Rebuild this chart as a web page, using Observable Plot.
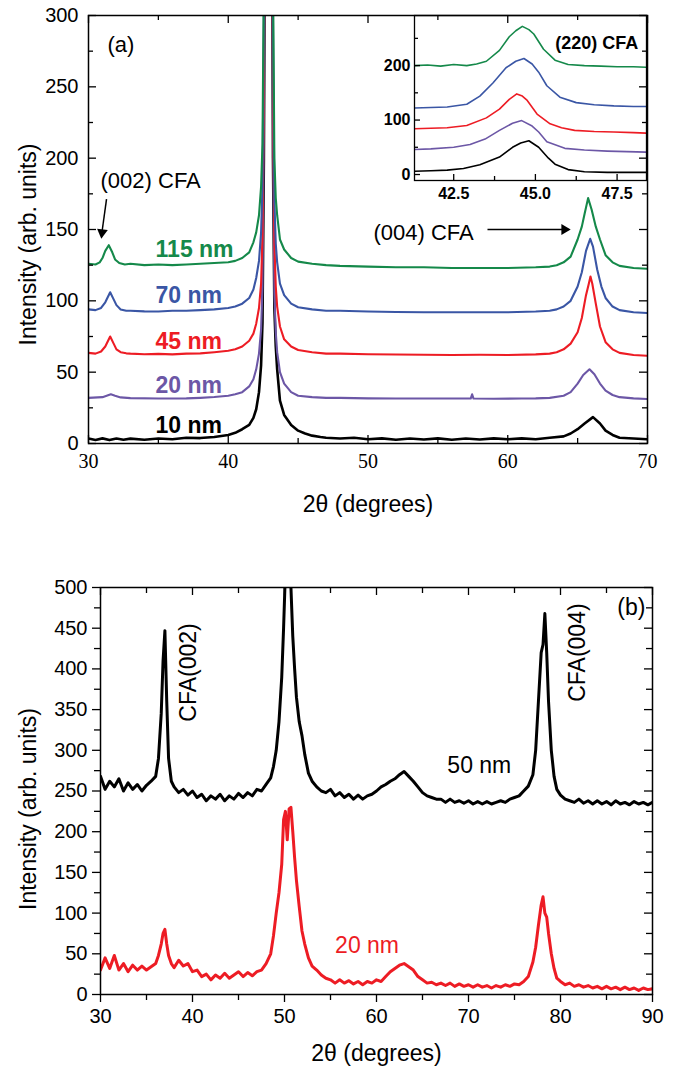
<!DOCTYPE html>
<html><head><meta charset="utf-8">
<script src="https://cdn.jsdelivr.net/npm/d3@7"></script>
<script src="https://cdn.jsdelivr.net/npm/@observablehq/plot@0.6"></script>
<style>
body{margin:0;background:#fff;}
#wrap{position:relative;width:676px;height:1070px;overflow:hidden;}
#wrap svg{position:absolute;}
</style></head><body><div id="wrap"></div>
<script>
// ---------- Panel (a): series labels and colours ----------
const topNames = ["10 nm","20 nm","45 nm","70 nm","115 nm"];
const topColors = ["#000000","#6c57a6","#ed1c24","#3a56a5","#15894a"];
const topLabelY = [12.6, 40.7, 71.5, 103.7, 136];

// ---------- Panel (a): 2θ / intensity pairs ----------
const top10nm = [[30,3.5],[30.5,2.5],[31,3.6],[31.5,2.4],[32,3.5],[32.5,2.6],[33,3.4],[34,2.6],[35,3.5],[36,3],[37,4],[38,3.8],[39,4.6],[40,6],[40.5,7.5],[41,10],[41.5,13],[41.8,18],[42,24],[42.2,36],[42.35,55],[42.45,85],[42.55,200],[42.9,1000],[43.2,200],[43.3,95],[43.4,68],[43.5,52],[43.7,30],[44,20],[44.5,13],[45,9],[45.5,7],[46,5.5],[46.6,4.5],[47,4],[48,3.5],[49,4],[50,3],[51,3.6],[52,2.6],[53,3.5],[54,2.8],[55,3.6],[56,2.6],[57,3.5],[58,2.8],[59,3.6],[60,3],[61,3.6],[62,3],[63,4],[64,5],[64.5,7],[65,10],[65.5,14],[66.1,18.5],[66.6,14],[67,9],[67.5,6],[68,4],[69,3.5],[70,3]];
const top20nm = [[30,32],[31,32.5],[31.3,33.5],[31.6,34.5],[31.9,33.5],[32.3,32.3],[33,31.8],[35,31.5],[37,31.6],[38,32],[39,32.6],[40,33.5],[40.5,34.5],[41,36],[41.5,40],[41.8,45],[42,52],[42.2,63],[42.35,80],[42.45,110],[42.55,230],[42.9,1000],[43.2,230],[43.3,105],[43.4,78],[43.5,64],[43.7,50],[44,42],[44.5,36],[45,33.5],[46,32.5],[47,32],[48,32],[50,31.6],[52,31.5],[54,31.5],[56,31.5],[57.35,31.5],[57.45,34.5],[57.55,31.5],[59,31.4],[61,31.5],[62,31.6],[63,32],[64,33.5],[64.5,36],[65,42],[65.4,48],[65.85,52],[66.2,48.5],[66.6,42],[67,37],[67.5,34],[68,32.5],[69,31.6],[70,31.2]];
const top45nm = [[30,63.5],[30.5,63],[30.9,64.5],[31.2,68],[31.55,75],[31.8,70],[32,66],[32.3,64],[32.7,63.2],[33,63],[34,62.6],[35,62.8],[36,62.5],[37,63],[38,63.2],[39,64],[40,65],[40.5,66],[41,68],[41.5,72],[41.8,77],[42,84],[42.2,95],[42.35,112],[42.45,145],[42.55,260],[42.9,1000],[43.2,260],[43.3,140],[43.4,110],[43.5,96],[43.7,82],[44,73],[44.5,68],[45,65.5],[46,64],[47,63],[48,63],[50,62.6],[52,62.4],[54,62.2],[56,62],[58,62.2],[60,62],[62,62.5],[63,63],[63.5,64],[64,66],[64.5,70],[65,78],[65.3,88],[65.6,104],[65.8,112],[65.92,117],[66.05,112],[66.3,98],[66.6,82],[67,71],[67.5,66],[68,63.5],[69,62],[70,61.5]];
const top70nm = [[30,94],[30.5,93.5],[30.9,95],[31.2,99],[31.55,106],[31.8,101],[32,97],[32.3,94],[32.7,93],[33,93],[34,92.6],[35,92.5],[36,93],[37,93],[38,93.5],[39,94],[40,95],[40.5,96],[41,98],[41.5,102],[41.8,108],[42,116],[42.2,128],[42.35,148],[42.45,180],[42.55,300],[42.9,1000],[43.2,300],[43.3,170],[43.4,140],[43.5,127],[43.7,112],[44,104],[44.5,98],[45,95.5],[46,94],[47,93],[48,93],[50,92.5],[52,92.2],[54,92],[56,92],[58,92],[60,92],[62,92.5],[63,93],[63.5,94],[64,96],[64.5,100],[65,110],[65.3,120],[65.6,135],[65.9,143.5],[66.1,138],[66.4,122],[66.7,110],[67,102],[67.5,96],[68,93.5],[69,92],[70,91.5]];
const top115nm = [[30,126],[30.5,125.5],[30.8,127],[31,130],[31.2,135],[31.45,139],[31.7,134],[31.9,129],[32.2,126.5],[32.6,125.5],[33,126],[34,125],[35,125.5],[36,125],[37,125.5],[38,126],[39,126.5],[40,127],[40.5,128],[41,130],[41.5,134],[41.8,141],[42,148],[42.2,160],[42.35,180],[42.45,210],[42.55,330],[42.9,1000],[43.2,330],[43.3,200],[43.4,172],[43.5,160],[43.7,143],[44,136],[44.5,130],[45,127.5],[46,126],[47,125],[48,124.5],[50,124],[52,123.5],[54,123.5],[56,123],[58,123],[60,123],[62,123.5],[63,124],[63.5,125],[64,127],[64.5,131],[65,143],[65.3,152],[65.5,161],[65.75,172],[66,164],[66.3,152],[66.6,143],[67,132],[67.5,127],[68,124.5],[69,123],[70,122.5]];

// ---------- Inset (220) ----------
const in10nm = [[41.3,6],[41.8,7],[42.3,8],[42.8,11],[43.3,18],[43.9,32],[44.3,50],[44.55,58],[44.8,62],[45.1,50],[45.4,30],[45.6,19],[46,9],[46.5,5],[47.2,4],[48,4],[48.4,4]];
const in20nm = [[41.3,46],[41.8,47],[42.5,50],[43,55],[43.46,65],[43.9,81],[44.3,94],[44.58,99],[44.9,89],[45.1,78],[45.35,60],[45.9,48],[46.5,45],[47.2,43],[47.8,42],[48.4,41]];
const in45nm = [[41.3,84],[41.8,85],[42.3,86],[42.9,90],[43.5,104],[43.9,120],[44.2,138],[44.43,148],[44.6,144],[44.75,136],[45.05,111],[45.45,93],[45.8,86],[46.2,81],[46.8,79],[47.4,78],[48,77],[48.4,76]];
const in70nm = [[41.3,122],[41.8,123],[42.3,124],[42.9,129],[43.3,144],[43.7,168],[44.1,196],[44.4,208],[44.65,213],[44.9,203],[45.1,188],[45.35,163],[45.75,142],[46.25,132],[46.8,128],[47.4,126],[48,125],[48.4,125]];
const in115nm = [[41.3,200],[41.7,201],[42.1,199],[42.5,202],[42.9,200],[43.2,203],[43.5,208],[43.9,228],[44.2,253],[44.4,264],[44.6,272],[44.8,266],[44.95,258],[45.25,230],[45.6,210],[46,202],[46.5,200],[47,199],[47.5,198],[48,198],[48.4,197]];

// ---------- Panel (b) ----------
const botNames = ["50 nm","20 nm"];
const botColors = ["#000000","#ed1c24"];
const bot50nm = [[30,268],[30.5,252],[31,262],[31.5,255],[32,265],[32.5,250],[33,260],[33.5,252],[34,258],[34.5,250],[35,257],[35.5,262],[36,268],[36.3,290],[36.6,345],[36.8,410],[37,447],[37.2,360],[37.4,290],[37.7,262],[38,255],[38.5,248],[39,252],[39.5,245],[40,250],[40.5,242],[41,246],[41.5,238],[42,244],[42.5,240],[43,246],[43.5,238],[44,244],[44.5,240],[45,247],[45.5,242],[46,248],[46.5,244],[47,252],[47.5,250],[48,258],[48.5,266],[48.8,280],[49.1,300],[49.4,335],[49.7,390],[49.9,450],[50.1,520],[50.3,560],[50.5,560],[50.7,500],[50.9,440],[51.1,400],[51.3,365],[51.6,335],[51.9,318],[52.2,295],[52.6,272],[53,262],[53.5,255],[54,250],[54.5,248],[55,252],[55.5,244],[56,248],[56.5,242],[57,246],[57.5,240],[58,245],[58.5,240],[59,244],[59.5,246],[60,250],[60.5,255],[61,258],[61.5,262],[62,265],[62.5,270],[63,274],[63.5,268],[64,262],[64.5,255],[65,248],[65.5,244],[66,242],[66.5,240],[67,240],[67.5,236],[68,240],[68.5,236],[69,238],[69.5,235],[70,238],[70.5,234],[71,237],[71.5,234],[72,237],[72.5,234],[73,236],[73.5,238],[74,236],[74.5,240],[75,242],[75.5,244],[76,250],[76.5,256],[77,270],[77.3,300],[77.6,360],[77.9,420],[78.1,430],[78.3,468],[78.5,420],[78.7,360],[79,300],[79.3,268],[79.6,252],[80,245],[80.5,240],[81,238],[81.5,236],[82,240],[82.5,235],[83,238],[83.5,234],[84,238],[84.5,234],[85,237],[85.5,233],[86,238],[86.5,234],[87,236],[87.5,233],[88,237],[88.5,234],[89,236],[89.5,233],[90,236]];
const bot20nm = [[30,30],[30.5,45],[31,32],[31.5,48],[32,30],[32.5,38],[33,28],[33.5,36],[34,30],[34.5,35],[35,30],[35.5,34],[36,38],[36.3,48],[36.6,62],[36.8,75],[37,80],[37.2,62],[37.4,48],[37.7,38],[38,33],[38.5,42],[39,35],[39.5,38],[40,28],[40.5,30],[41,22],[41.5,25],[42,18],[42.5,24],[43,20],[43.5,26],[44,20],[44.5,24],[45,28],[45.5,22],[46,27],[46.5,23],[47,28],[47.5,30],[48,38],[48.5,50],[48.8,72],[49.1,100],[49.4,125],[49.7,160],[49.9,215],[50.1,225],[50.3,190],[50.5,228],[50.7,230],[50.9,200],[51.1,168],[51.3,140],[51.6,108],[51.9,78],[52.2,62],[52.6,45],[53,35],[53.5,30],[54,24],[54.5,20],[55,18],[55.5,14],[56,18],[56.5,14],[57,17],[57.5,13],[58,16],[58.5,12],[59,16],[59.5,14],[60,18],[60.5,16],[61,22],[61.5,28],[62,32],[62.5,36],[63,38],[63.5,34],[64,30],[64.5,22],[65,18],[65.5,14],[66,15],[66.5,12],[67,14],[67.5,11],[68,14],[68.5,10],[69,13],[69.5,10],[70,12],[70.5,9],[71,12],[71.5,9],[72,11],[72.5,8],[73,11],[73.5,9],[74,12],[74.5,10],[75,13],[75.5,12],[76,16],[76.5,22],[77,40],[77.3,58],[77.6,85],[77.9,110],[78.1,120],[78.3,100],[78.5,95],[78.7,75],[79,50],[79.3,32],[79.6,20],[80,16],[80.5,12],[81,14],[81.5,10],[82,12],[82.5,9],[83,11],[83.5,8],[84,10],[84.5,7],[85,10],[85.5,7],[86,9],[86.5,6],[87,9],[87.5,6],[88,8],[88.5,5],[89,8],[89.5,6],[90,7]];

// ---------- Tick values ----------
const topXMajor = [30,40,50,60,70], topXMinor = [35,45,55,65];
const topYMajor = [0,50,100,150,200,250,300], topYMinor = [25,75,125,175,225,275];
const inXMajor = [42.5,45,47.5], inXMinor = [43.75,46.25];
const inYMajor = [0,100,200], inYMinor = [50,150,250];
const botXMajor = [30,40,50,60,70,80,90], botXMinor = [35,45,55,65,75,85];
const botYMajor = [0,50,100,150,200,250,300,350,400,450,500], botYMinor = [25,75,125,175,225,275,325,375,425,475];

const SANS = "'Liberation Sans', Arial, Helvetica, sans-serif";
const SERIF = "'Liberation Serif', 'Times New Roman', serif";
const wrap = document.getElementById("wrap");
const W = 676;

function ticksX(vals, fh, len, side) {
  return side === "bottom-in" ? Plot.tickX(vals, {x: d => d, insetTop: fh - len, stroke: "black", strokeWidth: 1.3})
       : side === "top-in" ? Plot.tickX(vals, {x: d => d, insetBottom: fh - len, stroke: "black", strokeWidth: 1.3})
       : Plot.tickX(vals, {x: d => d, insetTop: fh, insetBottom: -len, stroke: "black", strokeWidth: 1.3});
}
function ticksY(vals, fw, len, side) {
  return side === "left-in" ? Plot.tickY(vals, {y: d => d, insetRight: fw - len, stroke: "black", strokeWidth: 1.3})
       : side === "right-in" ? Plot.tickY(vals, {y: d => d, insetLeft: fw - len, stroke: "black", strokeWidth: 1.3})
       : Plot.tickY(vals, {y: d => d, insetRight: fw, insetLeft: -len, stroke: "black", strokeWidth: 1.3});
}

// ---------- Inset (drawn first, underneath) ----------
{
  const iw = 300, ih = 215, ml = 54, mr = 14, mt = 15, mb = 35;
  const fw = iw - ml - mr, fh = ih - mt - mb;
  const sets = [in10nm, in20nm, in45nm, in70nm, in115nm];
  const inset = Plot.plot({
    width: iw, height: ih, marginLeft: ml, marginRight: mr, marginTop: mt, marginBottom: mb,
    x: {domain: [41.3, 48.4]}, y: {domain: [-11, 292]},
    style: {background: "transparent", color: "black", fontFamily: SANS, fontSize: "16px"},
    marks: [
      Plot.frame({fill: "white", stroke: "none"}),
      ...sets.map((s, i) => Plot.line(s, {x: d => d[0], y: d => d[1], stroke: topColors[i], strokeWidth: 1.6, clip: true})),
      ticksX(inXMajor, fh, 6, "bottom-in"), ticksX(inXMinor, fh, 4, "bottom-in"),
      ticksY(inYMajor, fw, 6, "left-in"), ticksY(inYMinor, fw, 4, "left-in"),
      Plot.axisX(inXMajor, {tickSize: 0, tickPadding: 7, tickFormat: d3.format(".1f"), fontWeight: "bold", fontSize: 16, label: null}),
      Plot.axisY(inYMajor, {tickSize: 0, tickPadding: 4, fontWeight: "bold", fontSize: 16, label: null}),
      Plot.text(["(220) CFA"], {x: () => 48.15, y: () => 240.6, textAnchor: "end", fontWeight: "bold", fontSize: 18}),
      Plot.frame({stroke: "black", strokeWidth: 1.3})
    ]
  });
  inset.style.left = "360px"; inset.style.top = "0px";
  wrap.appendChild(inset);
}

// ---------- Panel (a) ----------
{
  const h = 540, ml = 88, mr = 29, mt = 15, mb = 97;
  const fw = W - ml - mr, fh = h - mt - mb;
  const sets = [top10nm, top20nm, top45nm, top70nm, top115nm];
  const p = Plot.plot({
    width: W, height: h, marginLeft: ml, marginRight: mr, marginTop: mt, marginBottom: mb,
    x: {domain: [30, 70]}, y: {domain: [0, 300]},
    style: {background: "transparent", color: "black", fontFamily: SANS, fontSize: "20px"},
    marks: [
      ...sets.map((s, i) => Plot.line(s, {x: d => d[0], y: d => d[1], stroke: topColors[i], strokeWidth: i === 0 ? 2.6 : 2.1, clip: true})),
      ...topNames.map((n, i) => Plot.text([n], {x: () => 34.8, y: () => topLabelY[i], fill: topColors[i], textAnchor: "start", fontWeight: "bold", fontSize: 23})),
      Plot.text(["(a)"], {x: () => 31.36, y: () => 279.5, textAnchor: "start", fontSize: 22}),
      Plot.text(["(002) CFA"], {x: () => 30.86, y: () => 184, textAnchor: "start", fontSize: 22}),
      Plot.link([0], {x1: () => 31.29, y1: () => 171.3, x2: () => 30.97, y2: () => 148.6, stroke: "black", strokeWidth: 1.5}),
      Plot.dot([0], {x: () => 30.97, y: () => 147.9, symbol: "triangle", r: 4, fill: "black", stroke: "none", rotate: 187}),
      Plot.text(["(004) CFA"], {x: () => 50.39, y: () => 147.9, textAnchor: "start", fontSize: 22}),
      Plot.link([0], {x1: () => 58.55, y1: () => 150, x2: () => 64.06, y2: () => 150, stroke: "black", strokeWidth: 1.5}),
      Plot.dot([0], {x: () => 64.06, y: () => 150, symbol: "triangle", r: 4, fill: "black", stroke: "none", rotate: 90}),
      ticksX(topXMajor, fh, 8, "bottom-in"), ticksX(topXMinor, fh, 5, "bottom-in"),
      ticksX(topXMajor, fh, 8, "top-in"), ticksX(topXMinor, fh, 5, "top-in"),
      ticksY(topYMajor, fw, 8, "left-in"), ticksY(topYMinor, fw, 5, "left-in"),
      ticksY(topYMajor, fw, 8, "right-in"), ticksY(topYMinor, fw, 5, "right-in"),
      Plot.axisX(topXMajor, {tickSize: 0, tickPadding: 10, fontFamily: SERIF, fontSize: 20, label: null}),
      Plot.axisY(topYMajor, {tickSize: 0, tickPadding: 10, fontSize: 20, label: null}),
      Plot.text(["2θ (degrees)"], {frameAnchor: "bottom", dy: 61, textAnchor: "middle", lineAnchor: "middle", fontSize: 23}),
      Plot.text(["Intensity (arb. units)"], {frameAnchor: "left", dx: -60, dy: 15, rotate: -90, textAnchor: "middle", lineAnchor: "middle", fontSize: 23}),
      Plot.frame({stroke: "black", strokeWidth: 1.5})
    ]
  });
  p.style.left = "0px"; p.style.top = "0px";
  wrap.appendChild(p);
}

// ---------- Panel (b) ----------
{
  const h = 530, ml = 100, mr = 24, mt = 47, mb = 76;
  const fw = W - ml - mr, fh = h - mt - mb;
  const sets = [bot50nm, bot20nm];
  const p = Plot.plot({
    width: W, height: h, marginLeft: ml, marginRight: mr, marginTop: mt, marginBottom: mb,
    x: {domain: [30, 90]}, y: {domain: [0, 500]},
    style: {background: "transparent", color: "black", fontFamily: SANS, fontSize: "20px"},
    marks: [
      ...sets.map((s, i) => Plot.line(s, {x: d => d[0], y: d => d[1], stroke: botColors[i], strokeWidth: 3, clip: true})),
      Plot.text(["CFA(002)"], {x: () => 39.57, y: () => 395.6, rotate: -90, fontSize: 23}),
      Plot.text(["CFA(004)"], {x: () => 81.85, y: () => 420, rotate: -90, fontSize: 23}),
      Plot.text(["(b)"], {x: () => 87.7, y: () => 475, fontSize: 23}),
      Plot.text([botNames[0]], {x: () => 67.7, y: () => 281, textAnchor: "start", fontSize: 23, fill: botColors[0]}),
      Plot.text([botNames[1]], {x: () => 55.5, y: () => 60, textAnchor: "start", fontSize: 23, fill: botColors[1]}),
      ticksX(botXMajor, fh, 8, "bottom-out"), ticksX(botXMinor, fh, 6, "bottom-out"),
      ticksX(botXMajor, fh, 8, "top-in"), ticksX(botXMinor, fh, 6, "top-in"),
      ticksY(botYMajor, fw, 8, "left-out"), ticksY(botYMinor, fw, 6, "left-out"),
      ticksY(botYMajor, fw, 8, "right-in"), ticksY(botYMinor, fw, 6, "right-in"),
      Plot.axisX(botXMajor, {tickSize: 0, tickPadding: 14, fontSize: 20, label: null}),
      Plot.axisY(botYMajor, {tickSize: 0, tickPadding: 13, fontSize: 20, label: null}),
      Plot.text(["2θ (degrees)"], {frameAnchor: "bottom", dy: 59, textAnchor: "middle", lineAnchor: "middle", fontSize: 23}),
      Plot.text(["Intensity (arb. units)"], {frameAnchor: "left", dx: -72, dy: 18, rotate: -90, textAnchor: "middle", lineAnchor: "middle", fontSize: 23}),
      Plot.frame({stroke: "black", strokeWidth: 1.5})
    ]
  });
  p.style.left = "0px"; p.style.top = "540px";
  wrap.appendChild(p);
}
</script></body></html>
